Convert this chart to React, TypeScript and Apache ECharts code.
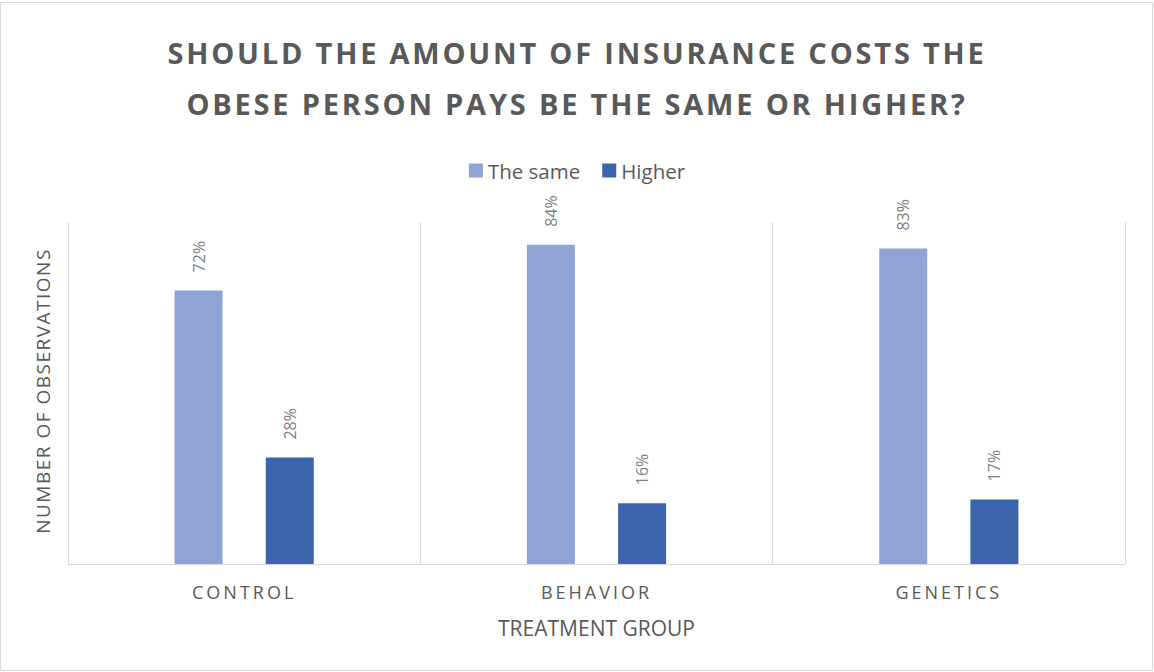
import React, { useEffect, useRef } from "react";
import * as echarts from "echarts";

const categories = ["CONTROL", "BEHAVIOR", "GENETICS"];
const seriesNames = ["The same", "Higher"];
const sameValues = [72, 84, 83];
const higherValues = [28, 16, 17];
const titleLine1 = "SHOULD THE AMOUNT OF INSURANCE COSTS THE";
const titleLine2 = "OBESE PERSON PAYS BE THE SAME OR HIGHER?";
const yAxisName = "NUMBER OF OBSERVATIONS";
const xAxisName = "TREATMENT GROUP";

const GREY = "#595959";
const FONT = "'Open Sans', 'Noto Sans', sans-serif";

const css = `
.ec-wrap svg text[style*="29px"], .ec-wrap svg text[font-size="29"], .ec-wrap svg text[font-size="29px"] { letter-spacing: 2.8px; }
.ec-wrap svg text[style*="18px"], .ec-wrap svg text[font-size="18"], .ec-wrap svg text[font-size="18px"] { letter-spacing: 3px; }
.ec-wrap svg text[style*="19px"], .ec-wrap svg text[font-size="19"], .ec-wrap svg text[font-size="19px"] { letter-spacing: 1.5px; }
`;

export default function App() {
  const ref = useRef<HTMLDivElement>(null);
  useEffect(() => {
    if (!ref.current) return;
    const chart = echarts.init(ref.current, undefined, { renderer: "svg" });
    const label = {
      show: true,
      position: "top",
      rotate: 90,
      align: "left",
      verticalAlign: "middle",
      distance: 18,
      formatter: "{c}%",
      color: "#7f7f7f",
      fontSize: 16,
      fontFamily: FONT,
    };
    chart.setOption({
      animation: false,
      backgroundColor: "#ffffff",
      textStyle: { fontFamily: FONT },
      title: {
        text: titleLine1 + "\n" + titleLine2,
        left: "center",
        top: 22,
        textStyle: {
          color: GREY,
          fontSize: 29,
          fontWeight: "bold",
          fontFamily: FONT,
          lineHeight: 51,
        },
      },
      legend: {
        data: seriesNames,
        top: 155,
        left: "center",
        icon: "rect",
        itemWidth: 14,
        itemHeight: 14,
        itemGap: 22,
        textStyle: { color: GREY, fontSize: 20.5, fontFamily: FONT },
      },
      grid: { left: 68, right: 29, top: 222, bottom: 108 },
      xAxis: {
        type: "category",
        data: categories,
        axisLine: { show: true, lineStyle: { color: "#d9d9d9", width: 1 } },
        axisTick: { show: false },
        splitLine: { show: true, lineStyle: { color: "#d9d9d9", width: 1 } },
        axisLabel: { color: GREY, fontSize: 18, margin: 19, fontFamily: FONT },
        name: xAxisName,
        nameLocation: "middle",
        nameGap: 53,
        nameTextStyle: { color: GREY, fontSize: 21, fontFamily: FONT },
      },
      yAxis: {
        type: "value",
        min: 0,
        max: 90,
        axisLine: { show: false },
        axisTick: { show: false },
        axisLabel: { show: false },
        splitLine: { show: false },
        name: yAxisName,
        nameLocation: "middle",
        nameGap: 16,
        nameTextStyle: { color: GREY, fontSize: 19, fontFamily: FONT, padding: [0, 0, 0, 4] },
      },
      series: [
        {
          name: seriesNames[0],
          type: "bar",
          data: sameValues,
          barWidth: 48,
          barGap: "90%",
          itemStyle: { color: "#8FA4D4" },
          label,
        },
        {
          name: seriesNames[1],
          type: "bar",
          data: higherValues,
          barWidth: 48,
          barGap: "90%",
          itemStyle: { color: "#3B64AD" },
          label,
        },
      ],
      graphic: [
        {
          type: "rect",
          shape: { x: 0.5, y: 2.5, width: 1152, height: 668 },
          style: { fill: "none", stroke: "#d9d9d9", lineWidth: 1 },
          silent: true,
        },
      ],
    });
    return () => chart.dispose();
  }, []);
  return (
    <>
      <style>{css}</style>
      <div
        ref={ref}
        className="ec-wrap"
        style={{ position: "fixed", left: 0, top: 0, width: 1154, height: 672 }}
      />
    </>
  );
}
